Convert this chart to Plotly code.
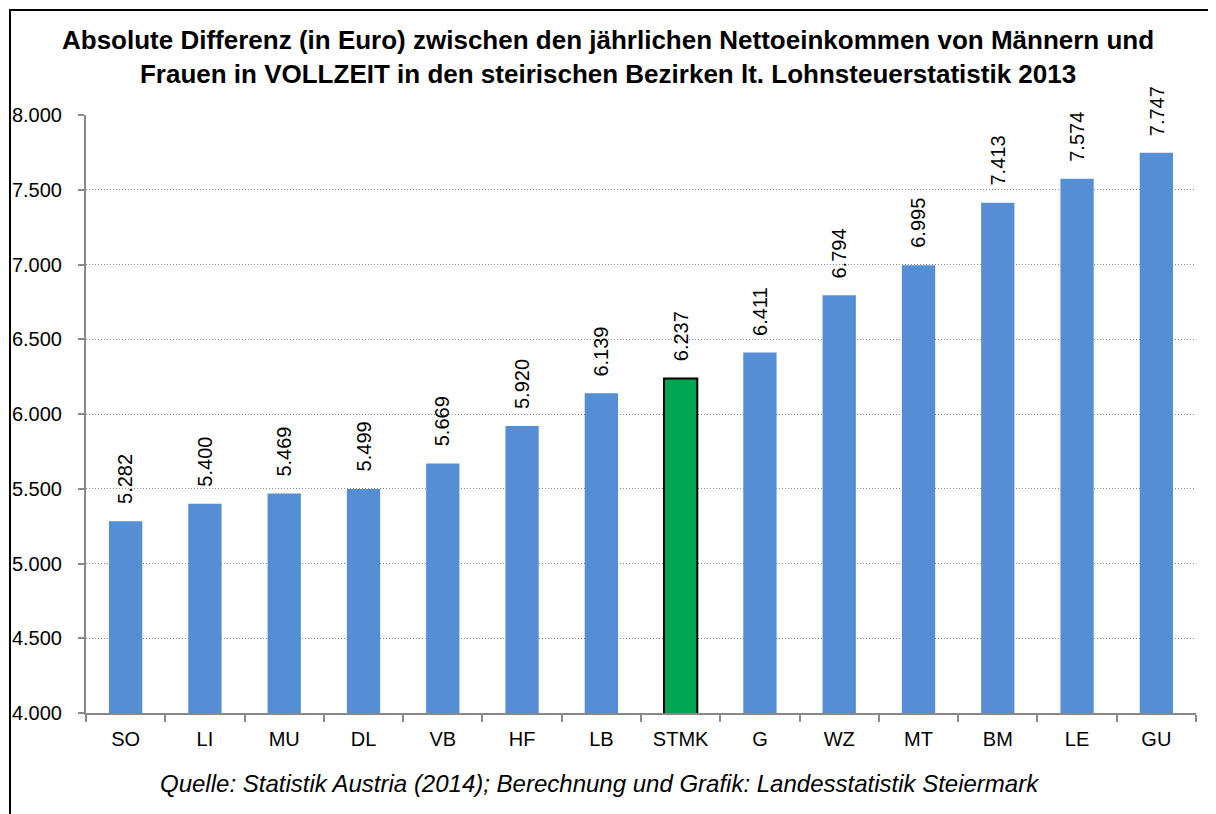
import plotly.graph_objects as go

categories = ["SO", "LI", "MU", "DL", "VB", "HF", "LB", "STMK", "G", "WZ", "MT", "BM", "LE", "GU"]
values = [5282, 5400, 5469, 5499, 5669, 5920, 6139, 6237, 6411, 6794, 6995, 7413, 7574, 7747]
highlight = "STMK"

title_text = ("Absolute Differenz (in Euro) zwischen den jährlichen Nettoeinkommen von Männern und<br>"
              "Frauen in VOLLZEIT in den steirischen Bezirken lt. Lohnsteuerstatistik 2013")
source_text = "Quelle: Statistik Austria (2014); Berechnung und Grafik: Landesstatistik Steiermark"

FONT = "Arial, Liberation Sans, sans-serif"
BLUE = "#558ED5"
GREEN = "#00A651"

colors = [GREEN if c == highlight else BLUE for c in categories]
line_colors = ["#000000" if c == highlight else "rgba(0,0,0,0)" for c in categories]
line_widths = [2 if c == highlight else 0 for c in categories]

# page has an 8px body margin; figure coords = page coords - 8
OFF = 8
W, H = 1216 - OFF, 814 - OFF
ml, mt = 86 - OFF, 115 - OFF
plot_right, plot_bottom = 1196 - OFF, 713 - OFF
mr, mb = W - plot_right, H - plot_bottom
pw, ph = W - ml - mr, H - mt - mb

def px_x(x):
    return (x - OFF - ml) / pw

def px_y(y):
    return (plot_bottom - (y - OFF)) / ph

fig = go.Figure()
fig.add_trace(go.Bar(
    x=categories, y=values,
    marker=dict(color=colors, line=dict(color=line_colors, width=line_widths)),
    width=0.42,
    hoverinfo="skip",
))

annotations = []
for c, v in zip(categories, values):
    annotations.append(dict(
        x=c, y=v, xref="x", yref="y", text=f"{v:,}".replace(",", "."),
        textangle=-90, showarrow=False, xanchor="center", yanchor="bottom",
        yshift=15, font=dict(family=FONT, size=20, color="#000000"),
    ))

annotations += [
    dict(text="<b>" + title_text + "</b>", xref="paper", yref="paper",
         x=px_x(608), y=px_y(57), xanchor="center", yanchor="middle",
         showarrow=False, font=dict(family=FONT, size=26, color="#000000"), align="center"),
    dict(text="<i>" + source_text + "</i>", xref="paper", yref="paper",
         x=px_x(600), y=px_y(783), xanchor="center", yanchor="middle",
         showarrow=False, font=dict(family=FONT, size=24, color="#000000")),
]

fig.update_layout(
    width=W, height=H,
    margin=dict(l=ml, r=mr, t=mt, b=mb, autoexpand=False),
    paper_bgcolor="white", plot_bgcolor="white",
    separators=",.",
    showlegend=False,
    font=dict(family=FONT, size=20, color="#000000"),
    xaxis=dict(
        automargin=False,
        showline=True, linecolor="#888888", linewidth=2,
        ticks="outside", tickson="boundaries", ticklen=7, tickcolor="#888888", tickwidth=2,
        tickfont=dict(family=FONT, size=20, color="#000000"),
        ticklabelstandoff=7,
        showgrid=False, zeroline=False,
    ),
    yaxis=dict(
        automargin=False,
        range=[4000, 8000], dtick=500, tick0=4000,
        tickformat=",.0f",
        showline=True, linecolor="#888888", linewidth=2,
        ticks="outside", ticklen=6, tickcolor="#888888", tickwidth=2,
        tickfont=dict(family=FONT, size=20, color="#000000"),
        ticklabelstandoff=12,
        showgrid=True, gridcolor="#8C8C8C", gridwidth=1, griddash="1px,2px",
        zeroline=False,
    ),
    annotations=annotations,
    shapes=[
        dict(type="rect", xref="paper", yref="paper",
             x0=px_x(10), x1=px_x(1240), y0=px_y(840), y1=px_y(10),
             line=dict(color="#000000", width=2), fillcolor="rgba(0,0,0,0)", layer="below"),
    ],
)

fig.write_html("out.html")
